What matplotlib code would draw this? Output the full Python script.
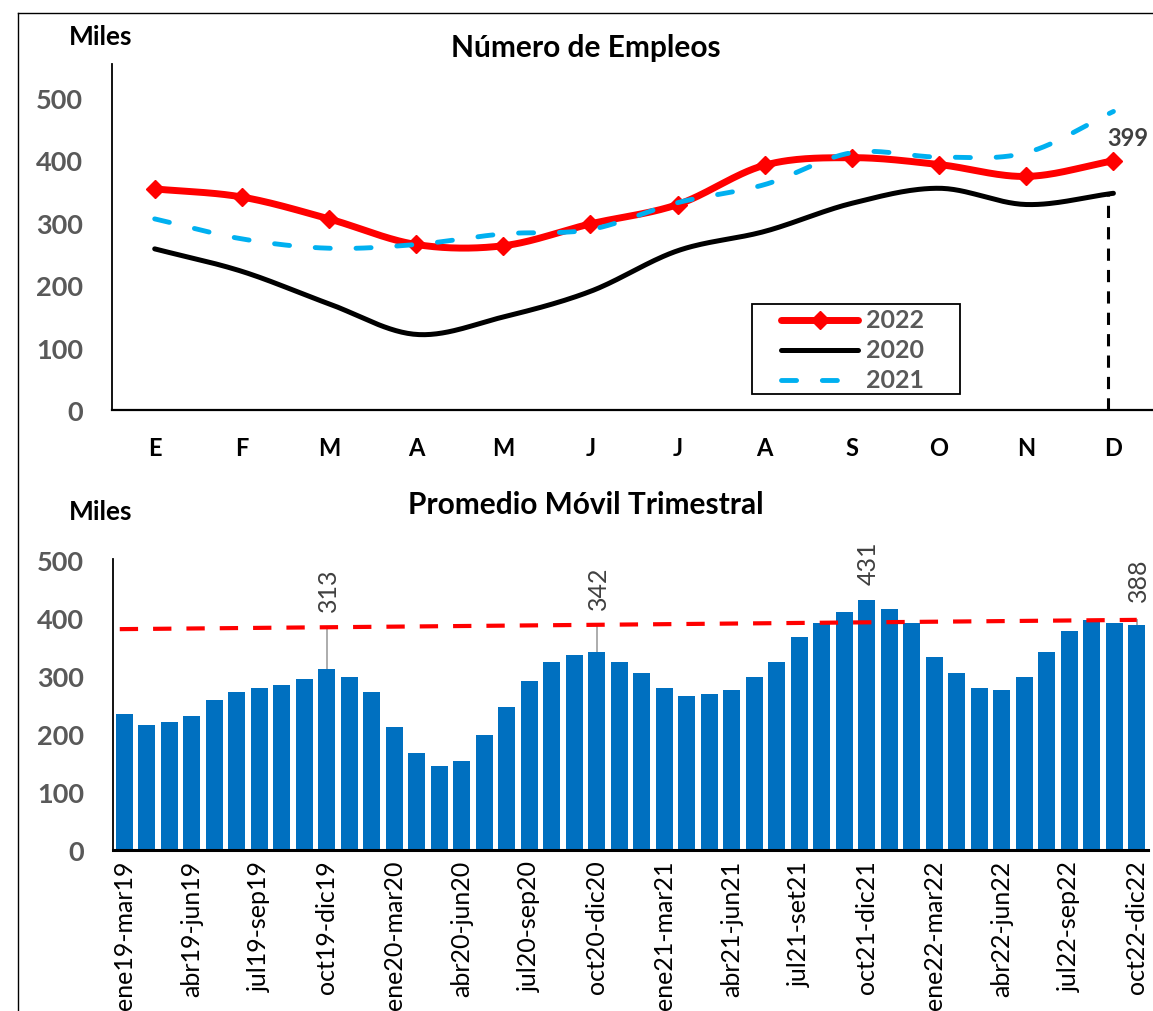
import matplotlib
matplotlib.use('Agg')
import matplotlib.pyplot as plt
from matplotlib.lines import Line2D
from matplotlib.patches import Rectangle
import numpy as np

plt.rcParams['font.family'] = ['Lato', 'DejaVu Sans']

# monthly jobs (miles)
months = ['E', 'F', 'M', 'A', 'M', 'J', 'J', 'A', 'S', 'O', 'N', 'D']
jobs_2022 = [354, 341, 306, 265, 263, 298, 329, 392, 404, 393, 374, 399]
jobs_2020 = [258, 222, 170, 121, 149, 190, 255, 286, 331, 355, 329, 347]
jobs_2021 = [306, 274, 259, 265, 282, 289, 332, 361, 412, 405, 412, 478]
series_names = ['2022', '2020', '2021']

# 3-month moving average (miles)
periods = ['ene19-mar19', 'abr19-jun19', 'jul19-sep19', 'oct19-dic19',
           'ene20-mar20', 'abr20-jun20', 'jul20-sep20', 'oct20-dic20',
           'ene21-mar21', 'abr21-jun21', 'jul21-set21', 'oct21-dic21',
           'ene22-mar22', 'abr22-jun22', 'jul22-sep22', 'oct22-dic22']
moving_avg = [235, 216, 220, 231, 258, 272, 280, 284, 295, 313, 299, 272,
              213, 168, 145, 153, 198, 246, 292, 325, 336, 342, 325, 306,
              280, 265, 269, 276, 299, 325, 367, 392, 411, 431, 415, 392,
              333, 306, 280, 276, 299, 341, 377, 396, 392, 388]
trend_x = [-0.2, 45]
trend_y = [381, 397]
labeled_bars = [9, 21, 33, 45]

W, H = 1153, 1012
GRAY = '#595959'
DARK = '#404040'
RED = '#FF0000'
BLUE = '#00B0F0'


def fx(px):
    return px / W


def fy(py):
    return 1 - py / H


def smooth(x, y, n=30):
    # catmull-rom curve through the points (like excel's smoothed line)
    x = np.asarray(x, float)
    y = np.asarray(y, float)
    px = np.concatenate([[2 * x[0] - x[1]], x, [2 * x[-1] - x[-2]]])
    py = np.concatenate([[2 * y[0] - y[1]], y, [2 * y[-1] - y[-2]]])
    t = np.linspace(0, 1, n, endpoint=False)
    xs, ys = [], []
    for i in range(1, len(px) - 2):
        for p, out in ((px, xs), (py, ys)):
            p0, p1, p2, p3 = p[i - 1], p[i], p[i + 1], p[i + 2]
            out.extend(0.5 * (2 * p1 + (-p0 + p2) * t
                              + (2 * p0 - 5 * p1 + 4 * p2 - p3) * t ** 2
                              + (-p0 + 3 * p1 - 3 * p2 + p3) * t ** 3))
    xs.append(x[-1])
    ys.append(y[-1])
    return np.array(xs), np.array(ys)


fig = plt.figure(figsize=(W / 100, H / 100), dpi=100)

# chart border
fig.add_artist(Line2D([fx(18), fx(18)], [0, fy(14)], color='black', lw=1))
fig.add_artist(Line2D([fx(18), 1], [fy(14), fy(14)], color='black', lw=1))

# ---- top: Número de Empleos ----
ax1 = fig.add_axes([fx(112), fy(411), 1045 / W, 346 / H])
x = np.arange(len(months))

red_style = dict(color=RED, lw=5, solid_capstyle='round')
black_style = dict(color='black', lw=3.6, solid_capstyle='round')
blue_style = dict(color=BLUE, lw=3.5, dashes=(3.1, 5.3), dash_capstyle='round')

sx, sy = smooth(x, jobs_2020)
ax1.plot(sx, sy, zorder=2, **black_style)
sx, sy = smooth(x, jobs_2022)
ax1.plot(sx, sy, zorder=3, **red_style)
ax1.plot(x, jobs_2022, ls='none', marker='D', ms=9, color=RED, zorder=3)
sx, sy = smooth(x, jobs_2021)
ax1.plot(sx, sy, zorder=4, **blue_style)

ax1.plot([11 - 0.06, 11 - 0.06], [0, jobs_2020[-1]], color='black', lw=2.2,
         dashes=(4, 3), zorder=1)
ax1.text(11.17, 437, str(jobs_2022[-1]), ha='center', va='center',
         fontsize=17, fontweight='bold', color=DARK)

ax1.set_xlim(-0.49, 11.5)
ax1.set_ylim(0, 554)
ax1.set_xticks(x)
ax1.set_xticklabels(months, fontsize=17, fontweight='bold')
ax1.set_yticks(range(0, 501, 100))
ax1.set_yticklabels([str(v) for v in range(0, 501, 100)], fontsize=19.5,
                    fontweight='bold', color=GRAY)
ax1.tick_params(axis='both', length=0)
ax1.tick_params(axis='y', pad=21)
ax1.tick_params(axis='x', pad=19)
for s in ['top', 'right']:
    ax1.spines[s].set_visible(False)
ax1.spines['left'].set_linewidth(1.3)
ax1.spines['bottom'].set_linewidth(1.6)

# legend box drawn by hand
fig.add_artist(Rectangle((fx(752), fy(395)), fx(960) - fx(752),
                         fy(305) - fy(395), transform=fig.transFigure,
                         fill=False, edgecolor='black', lw=1.3))
for row, (name, style) in enumerate(zip(series_names,
                                        [red_style, black_style, blue_style])):
    yy = fy(321 + row * 30)
    fig.add_artist(Line2D([fx(781), fx(858)], [yy, yy], **style))
    if row == 0:
        fig.add_artist(Line2D([fx(819.5)], [yy], marker='D', ms=9, color=RED))
    fig.text(fx(866), yy, name, ha='left', va='center', fontsize=18,
             fontweight='bold', color=GRAY)

fig.text(fx(586), fy(48), 'Número de Empleos', ha='center', va='center',
         fontsize=21.5, fontweight='bold')
fig.text(fx(101), fy(37), 'Miles', ha='center', va='center',
         fontsize=19, fontweight='bold')

# ---- bottom: Promedio Móvil Trimestral ----
ax2 = fig.add_axes([fx(113), fy(851), 1035 / W, 291 / H])
bx = np.arange(len(moving_avg))
ax2.bar(bx, moving_avg, width=0.76, color='#0070C0', zorder=2)
ax2.plot(trend_x, trend_y, color=RED, lw=3, dashes=(4.4, 3.6), zorder=3)

for i in labeled_bars:
    v = moving_avg[i]
    tv = np.interp(i, trend_x, trend_y)
    if v < tv:
        ax2.plot([i, i], [v, tv], color='#A6A6A6', lw=1.3, zorder=1)
        ly = tv + 28
    else:
        ly = v + 28
    if i == labeled_bars[-1]:
        ly = v + 41
    ax2.text(i + 0.07, ly, str(v), rotation=90, ha='center', va='bottom',
             fontsize=18, color=DARK)

ax2.set_xlim(-0.5, 45.5)
ax2.set_ylim(0, 502)
ax2.set_xticks(bx[::3])
ax2.set_xticklabels(periods, rotation=90, fontsize=18, va='top')
ax2.set_yticks(range(0, 501, 100))
ax2.set_yticklabels([str(v) for v in range(0, 501, 100)], fontsize=19.5,
                    fontweight='bold', color=GRAY)
ax2.tick_params(axis='both', length=0)
ax2.tick_params(axis='y', pad=21)
ax2.tick_params(axis='x', pad=7)
for s in ['top', 'right']:
    ax2.spines[s].set_visible(False)
ax2.spines['left'].set_linewidth(1.3)
ax2.spines['bottom'].set_linewidth(2.2)

fig.text(fx(586), fy(505), 'Promedio Móvil Trimestral', ha='center',
         va='center', fontsize=21.5, fontweight='bold')
fig.text(fx(101), fy(512), 'Miles', ha='center', va='center',
         fontsize=19, fontweight='bold')

fig.savefig('out.png', dpi=100)
